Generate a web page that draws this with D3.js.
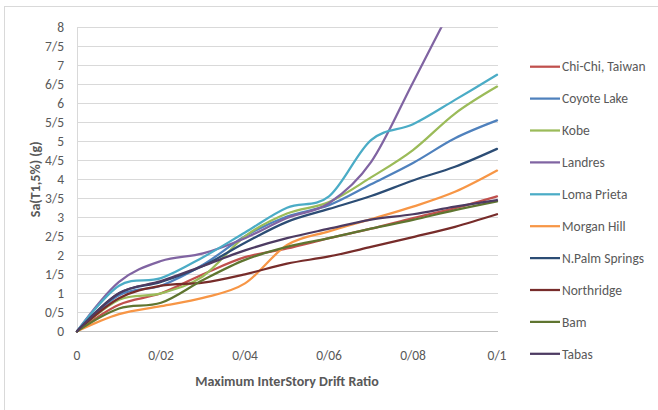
<!DOCTYPE html>
<html><head><meta charset="utf-8">
<script src="https://cdn.jsdelivr.net/npm/d3@7"></script>
<style>
html,body{margin:0;padding:0;background:#fff;}
text{font-family:Carlito,'Liberation Sans Narrow','DejaVu Sans Condensed',sans-serif;}
</style></head>
<body><svg id="c" width="658" height="410"></svg>
<script>
const drift = [0, 0.01, 0.02, 0.03, 0.04, 0.05, 0.06, 0.07, 0.08, 0.09, 0.1];
const xTickValues = [0, 0.02, 0.04, 0.06, 0.08, 0.1];
const xTickLabels = ["0", "0/02", "0/04", "0/06", "0/08", "0/1"];
const yTickValues = [0,0.5,1,1.5,2,2.5,3,3.5,4,4.5,5,5.5,6,6.5,7,7.5,8];
const yTickLabels = ["0","0/5","1","1/5","2","2/5","3","3/5","4","4/5","5","5/5","6","6/5","7","7/5","8"];
const seriesNames = ["Chi-Chi, Taiwan","Coyote Lake","Kobe","Landres","Loma Prieta","Morgan Hill","N.Palm Springs","Northridge","Bam","Tabas"];
const seriesColors = ["#C0504D","#4F81BD","#9BBB59","#8064A2","#4BACC6","#F79646","#2C4D75","#772C2A","#5F7530","#4D3B62"];
const chiChi     = [0, 0.70, 1.00, 1.50, 1.95, 2.18, 2.45, 2.70, 2.98, 3.24, 3.55];
const coyoteLake = [0, 0.95, 1.20, 1.75, 2.50, 3.02, 3.32, 3.87, 4.43, 5.08, 5.55];
const kobe       = [0, 0.83, 1.00, 1.45, 2.50, 3.10, 3.40, 4.05, 4.77, 5.73, 6.44];
const landres    = [0, 1.30, 1.85, 2.05, 2.45, 2.98, 3.37, 4.45, 6.55, 8.70, 10.8];
const lomaPrieta = [0, 1.20, 1.40, 1.95, 2.60, 3.25, 3.55, 5.03, 5.45, 6.09, 6.75];
const morganHill = [0, 0.45, 0.66, 0.88, 1.26, 2.27, 2.63, 2.95, 3.28, 3.67, 4.23];
const nPalm      = [0, 1.00, 1.30, 1.72, 2.33, 2.88, 3.22, 3.56, 3.97, 4.33, 4.80];
const northridge = [0, 0.87, 1.20, 1.28, 1.50, 1.78, 1.97, 2.22, 2.48, 2.75, 3.08];
const bam        = [0, 0.60, 0.75, 1.35, 1.88, 2.22, 2.45, 2.70, 2.93, 3.19, 3.42];
const tabas      = [0, 1.00, 1.32, 1.72, 2.13, 2.45, 2.70, 2.94, 3.08, 3.28, 3.45];
const seriesValues = [chiChi, coyoteLake, kobe, landres, lomaPrieta, morganHill, nPalm, northridge, bam, tabas];

const svg = d3.select("#c");
const m = {l:77, r:497, t:27.3, b:331.3};
const x = d3.scaleLinear().domain([0,0.1]).range([m.l,m.r]);
const y = d3.scaleLinear().domain([0,8]).range([m.b,m.t]);

svg.append("rect").attr("x",4.5).attr("y",6.5).attr("width",670).attr("height",420)
  .attr("fill","none").attr("stroke","#D9D9D9").attr("stroke-width",1);

svg.append("g").selectAll("line").data(yTickValues.filter(v=>v>0)).join("line")
  .attr("x1",m.l).attr("x2",m.r+1).attr("y1",d=>Math.round(y(d))+0.5).attr("y2",d=>Math.round(y(d))+0.5)
  .attr("stroke","#D9D9D9").attr("stroke-width",1);
svg.append("line").attr("x1",m.l+0.5).attr("x2",m.l+0.5).attr("y1",m.t).attr("y2",m.b)
  .attr("stroke","#D9D9D9");
svg.append("line").attr("x1",m.l).attr("x2",m.r+1).attr("y1",Math.round(m.b)+0.5).attr("y2",Math.round(m.b)+0.5)
  .attr("stroke","#BFBFBF");

svg.append("g").selectAll("text").data(yTickValues).join("text")
  .attr("x",64).attr("y",d=>y(d)).attr("dy","0.35em").attr("text-anchor","end")
  .attr("font-size",13.5).attr("fill","#595959").text((d,i)=>yTickLabels[i]);
svg.append("g").selectAll("text").data(xTickValues).join("text")
  .attr("x",d=>x(d)).attr("y",355).attr("dy","0.35em").attr("text-anchor","middle")
  .attr("font-size",13.5).attr("fill","#595959").text((d,i)=>xTickLabels[i]);

svg.append("text").attr("x",(m.l+m.r)/2).attr("y",381).attr("dy","0.35em").attr("text-anchor","middle")
  .attr("font-size",14).attr("font-weight","bold").attr("fill","#595959").text("Maximum InterStory Drift Ratio");
svg.append("text").attr("transform",`translate(35,${(m.t+m.b)/2}) rotate(-90)`).attr("dy","0.35em")
  .attr("text-anchor","middle").attr("font-size",14).attr("font-weight","bold").attr("fill","#595959")
  .text("Sa(T1,5%) (g)");

svg.append("clipPath").attr("id","clip").append("rect")
  .attr("x",m.l-2).attr("y",m.t).attr("width",m.r-m.l+4).attr("height",m.b-m.t+2);

const line = d3.line().x((d,i)=>x(drift[i])).y(d=>y(d)).curve(d3.curveCardinal.tension(0));
svg.append("g").attr("clip-path","url(#clip)").selectAll("path").data(seriesValues).join("path")
  .attr("d",d=>line(d)).attr("fill","none").attr("stroke",(d,i)=>seriesColors[i])
  .attr("stroke-width",2.25).attr("stroke-linejoin","round").attr("stroke-linecap","round");

const lg = svg.append("g").selectAll("g").data(seriesNames).join("g")
  .attr("transform",(d,i)=>`translate(530,${66.7+i*31.9})`);
lg.append("line").attr("x1",0).attr("x2",30).attr("y1",0).attr("y2",0)
  .attr("stroke",(d,i)=>seriesColors[i]).attr("stroke-width",2.25);
lg.append("text").attr("x",32).attr("y",0).attr("dy","0.35em").attr("font-size",13.5)
  .attr("fill","#595959").text(d=>d);
</script></body></html>
